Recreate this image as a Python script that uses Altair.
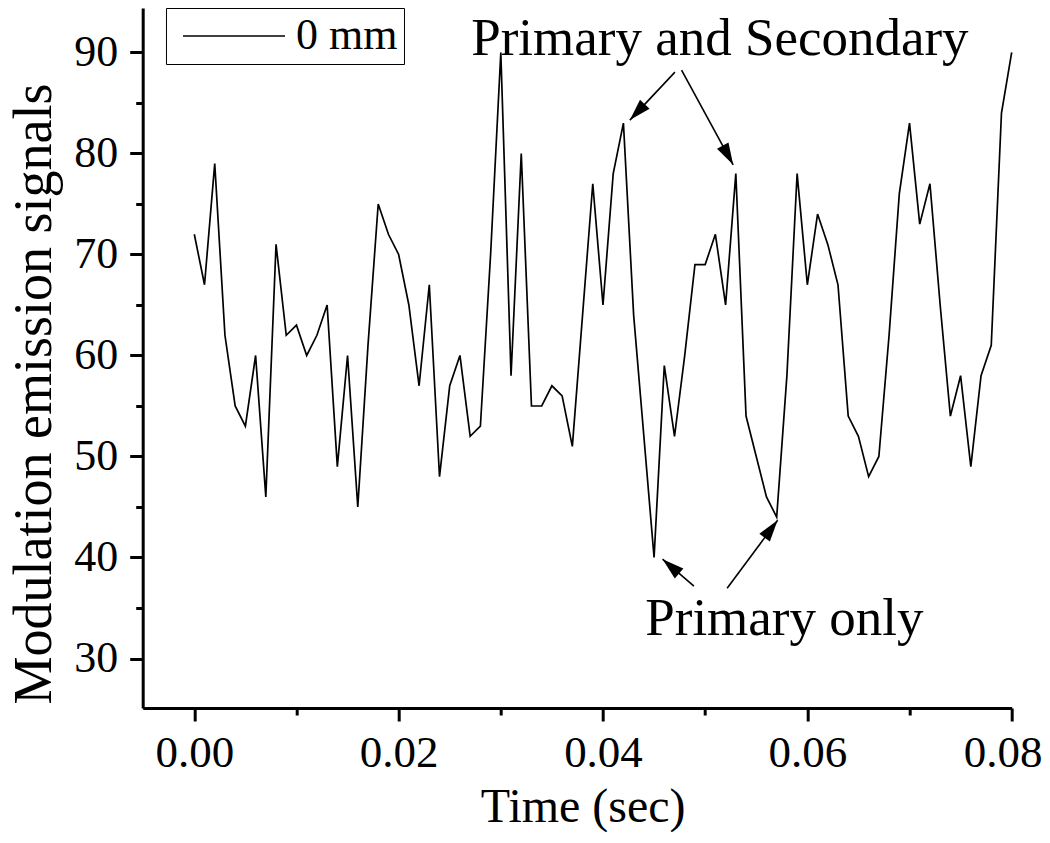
import math
import altair as alt
import pandas as pd

# ---------------- data ----------------
time_s = [0.000, 0.001, 0.002, 0.003, 0.004, 0.005, 0.006, 0.007, 0.008, 0.009,
          0.010, 0.011, 0.012, 0.013, 0.014, 0.015, 0.016, 0.017, 0.018, 0.019,
          0.020, 0.021, 0.022, 0.023, 0.024, 0.025, 0.026, 0.027, 0.028, 0.029,
          0.030, 0.031, 0.032, 0.033, 0.034, 0.035, 0.036, 0.037, 0.038, 0.039,
          0.040, 0.041, 0.042, 0.043, 0.044, 0.045, 0.046, 0.047, 0.048, 0.049,
          0.050, 0.051, 0.052, 0.053, 0.054, 0.055, 0.056, 0.057, 0.058, 0.059,
          0.060, 0.061, 0.062, 0.063, 0.064, 0.065, 0.066, 0.067, 0.068, 0.069,
          0.070, 0.071, 0.072, 0.073, 0.074, 0.075, 0.076, 0.077, 0.078, 0.079,
          0.080]
signal = [72, 67, 79, 62, 55, 53, 60, 46, 71, 62,
          63, 60, 62, 65, 49, 60, 45, 61, 75, 72,
          70, 65, 57, 67, 48, 57, 60, 52, 53, 70,
          90, 58, 80, 55, 55, 57, 56, 51, 64, 77,
          65, 78, 83, 64, 52, 40, 59, 52, 60, 69,
          69, 72, 65, 78, 54, 50, 46, 44, 58, 78,
          67, 74, 71, 67, 54, 52, 48, 50, 62, 76,
          83, 73, 77, 65, 54, 58, 49, 58, 61, 84,
          90]
series_name = "0 mm"

x_major = [0.00, 0.02, 0.04, 0.06, 0.08]
x_minor = [0.01, 0.03, 0.05, 0.07]
y_major = [30, 40, 50, 60, 70, 80, 90]
y_minor = [35, 45, 55, 65, 75, 85]
x_domain = [-0.00505, 0.08]
y_domain = [25.1, 94.4]

ann_text = ["Primary and Secondary", "Primary only"]
ann_x = [0.05144, 0.05775]
ann_y = [89.73, 32.31]

arrow_x0 = [0.04704, 0.04769, 0.04890, 0.05215]
arrow_y0 = [88.05, 88.25, 37.16, 36.96]
arrow_x1 = [0.04263, 0.05274, 0.04583, 0.05709]
arrow_y1 = [83.30, 78.88, 39.83, 43.69]

# ---------------- layout ----------------
W, H = 869, 700
FONT = "Liberation Serif"
px_x = W / (x_domain[1] - x_domain[0])
px_y = H / (y_domain[1] - y_domain[0])

df = pd.DataFrame({"t": time_s, "v": signal, "series": [series_name] * len(time_s)})
ann_df = pd.DataFrame({"label": ann_text, "x": ann_x, "y": ann_y})

angles = []
for a, b, c, d in zip(arrow_x0, arrow_y0, arrow_x1, arrow_y1):
    dx = (c - a) * px_x
    dy = -(d - b) * px_y  # screen y grows downward
    angles.append(math.degrees(math.atan2(dx, -dy)) % 360)
arr_df = pd.DataFrame({"x0": arrow_x0, "y0": arrow_y0, "x1": arrow_x1,
                       "y1": arrow_y1, "ang": angles})

xs = alt.Scale(domain=x_domain, nice=False, zero=False)
ys = alt.Scale(domain=y_domain, nice=False, zero=False)

common_axis = dict(domainColor="black", tickColor="black", tickWidth=3,
                   grid=False, labelColor="black", titleColor="black",
                   labelFont=FONT, titleFont=FONT, titleFontWeight="normal")

x_axis = alt.Axis(orient="bottom", values=x_major, format=".2f", title="Time (sec)",
                  domainWidth=3, tickSize=13, labelFontSize=45,
                  labelBaseline="alphabetic", labelPadding=46, labelFlush=False,
                  labelOverlap=False,
                  labelOffset={"condition": {"test": "datum.value >= 0.079", "value": -9},
                               "value": 0},
                  titleFontSize=48, titleBaseline="alphabetic",
                  titleAlign="center", titleX=440, titleY=114, **common_axis)
y_axis = alt.Axis(orient="left", values=y_major, format="d",
                  title="Modulation emission signals",
                  domainWidth=3, tickSize=13, labelFontSize=44, labelPadding=12,
                  labelFlush=False, labelOverlap=False, titleFontSize=54,
                  titleAngle=270, titleBaseline="alphabetic", titleAlign="center",
                  titleX=-92, titleY=385.5, **common_axis)

x_minor_axis = alt.Axis(orient="bottom", values=x_minor, labels=False, domain=False,
                        tickSize=7, title=None, **common_axis)
y_minor_axis = alt.Axis(orient="left", values=y_minor, labels=False, domain=False,
                        tickSize=7, title=None, **common_axis)

legend = alt.Legend(orient="none", legendX=23.3, legendY=0, title=None,
                    strokeColor="black", fillColor="white", padding=6,
                    symbolType="M-10.2,0L10.2,0", symbolSize=100,
                    symbolStrokeWidth=1.6, symbolOffset=40, labelOffset=40,
                    labelFont=FONT, labelFontSize=44, labelColor="black",
                    labelLimit=0)

line = alt.Chart(df).mark_line(strokeWidth=1.7).encode(
    x=alt.X("t:Q", scale=xs, axis=x_axis),
    y=alt.Y("v:Q", scale=ys, axis=y_axis),
    color=alt.Color("series:N", scale=alt.Scale(range=["black"]), legend=legend),
)

minor = alt.Chart(df).mark_point(opacity=0).encode(
    x=alt.X("t:Q", scale=xs, axis=x_minor_axis),
    y=alt.Y("v:Q", scale=ys, axis=y_minor_axis),
)

shafts = alt.Chart(arr_df).mark_rule(color="black", strokeWidth=1.6).encode(
    x=alt.X("x0:Q", scale=xs, axis=None),
    y=alt.Y("y0:Q", scale=ys, axis=None),
    x2="x1:Q",
    y2="y1:Q",
)

heads = alt.Chart(arr_df).mark_point(
    shape="M0,0L0.3,1L-0.3,1Z", filled=True, color="black", size=1900,
    opacity=1, strokeWidth=0,
).encode(
    x=alt.X("x1:Q", scale=xs, axis=None),
    y=alt.Y("y1:Q", scale=ys, axis=None),
    angle=alt.Angle("ang:Q", scale=None),
)

texts = alt.Chart(ann_df).mark_text(
    font=FONT, fontSize=53, color="black", align="center", baseline="alphabetic"
).encode(
    x=alt.X("x:Q", scale=xs, axis=None),
    y=alt.Y("y:Q", scale=ys, axis=None),
    text="label:N",
)

chart = (
    alt.layer(line, minor, shafts, heads, texts)
    .resolve_axis(x="independent", y="independent")
    .properties(
        width=W, height=H,
        autosize=alt.AutoSizeParams(type="none"),
        padding={"left": 134.7, "top": 0, "right": 30, "bottom": 124},
        background="white",
    )
    .configure_view(strokeWidth=0)
)

chart.save("out.html", embed_options={"renderer": "svg", "actions": False})
